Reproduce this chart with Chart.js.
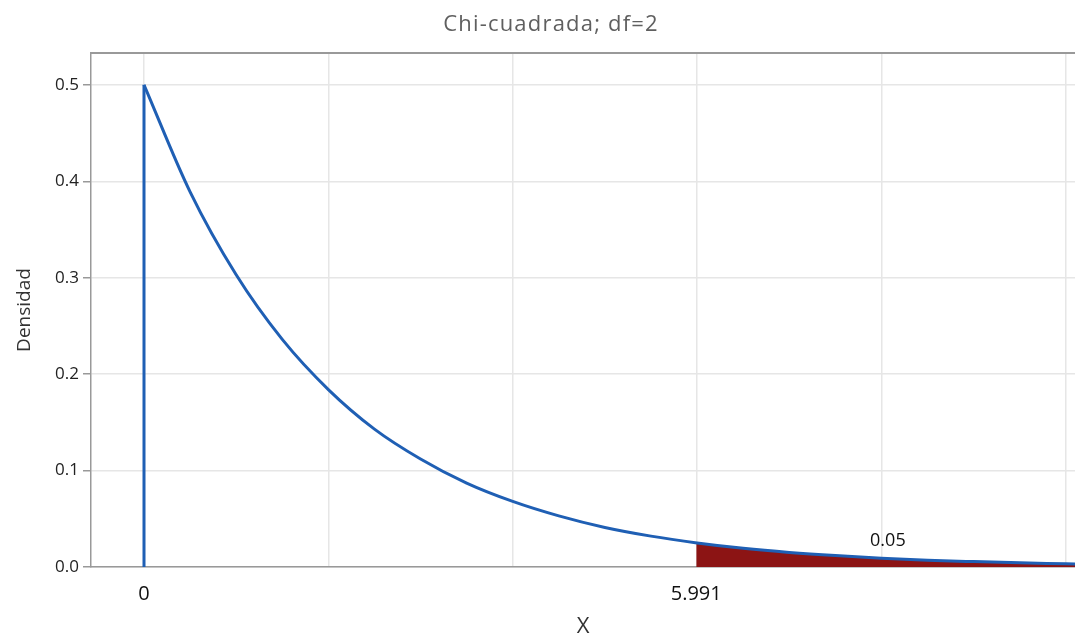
<!DOCTYPE html>
<html>
<head>
<meta charset="utf-8">
<script src="https://cdn.jsdelivr.net/npm/chart.js@4"></script>
<style>
  body { margin: 0; background: #fff; }
  #wrap { width: 1075px; height: 636px; position: relative; }
</style>
</head>
<body>
<div id="wrap"><canvas id="chiChart"></canvas></div>
<script>
// density curve
const curveX = [0, 0.5, 1, 1.5, 2, 2.5, 3, 3.5, 4, 4.5, 5, 5.5, 6, 6.5, 7, 7.5, 8, 8.5, 9, 9.5, 10, 10.1];
const curveY = [0.5, 0.389, 0.303, 0.236, 0.184, 0.143, 0.112, 0.087, 0.068, 0.053, 0.041, 0.032, 0.025, 0.0194, 0.0151, 0.0118, 0.0092, 0.0071, 0.0056, 0.0043, 0.0034, 0.0032];

// vertical edge at x = 0
const edgeX = [0, 0];
const edgeY = [0, 0.5];

// shaded right tail
const tailX = [5.991, 6.5, 7, 7.5, 8, 8.5, 9, 9.5, 10, 10.1];
const tailY = [0.025, 0.0194, 0.0151, 0.0118, 0.0092, 0.0071, 0.0056, 0.0043, 0.0034, 0.0032];

const yTicks = [0, 0.1, 0.2, 0.3, 0.4, 0.5];
const xGrid = [0, 2, 4, 6, 8, 10];
const xLabels = [0, 5.991];
const critical = 5.991;

const tailLabel = "0.05";
const tailLabelX = 8.07;
const tailLabelY = 0.027;

const toPoints = (xs, ys) => xs.map((x, i) => ({ x: x, y: ys[i] }));

const blue = "#1f5fb4";
const darkRed = "#8c1414";

const decorPlugin = {
    id: "decor",
    afterDraw(chart) {
        const ctx = chart.ctx;
        const area = chart.chartArea;

        // top frame line
        ctx.save();
        ctx.strokeStyle = "#999";
        ctx.lineWidth = 2;
        ctx.beginPath();
        ctx.moveTo(area.left, area.top);
        ctx.lineTo(area.right, area.top);
        ctx.stroke();

        // title
        ctx.fillStyle = "#5f5f5f";
        ctx.font = "22px 'Open Sans'";
        ctx.letterSpacing = "1.2px";
        ctx.textAlign = "center";
        ctx.textBaseline = "middle";
        ctx.fillText("Chi-cuadrada; df=2", 551, 25);
        ctx.letterSpacing = "0px";

        // tail probability
        ctx.fillStyle = "#111";
        ctx.font = "18px 'Open Sans'";
        ctx.fillText(tailLabel, chart.scales.x.getPixelForValue(tailLabelX), chart.scales.y.getPixelForValue(tailLabelY));
        ctx.restore();
    }
};

new Chart(document.getElementById("chiChart"), {
    type: "line",
    data: {
        datasets: [
            {
                data: toPoints(curveX, curveY),
                borderColor: blue,
                borderWidth: 3,
                pointRadius: 0,
                cubicInterpolationMode: "monotone",
                fill: false
            },
            {
                data: toPoints(edgeX, edgeY),
                borderColor: blue,
                borderWidth: 3,
                pointRadius: 0,
                fill: false
            },
            {
                data: toPoints(tailX, tailY),
                borderWidth: 0,
                borderColor: darkRed,
                backgroundColor: darkRed,
                pointRadius: 0,
                cubicInterpolationMode: "monotone",
                fill: "origin"
            }
        ]
    },
    options: {
        responsive: true,
        maintainAspectRatio: false,
        animation: false,
        layout: {
            padding: { top: 53, right: 0, left: 0, bottom: 0 }
        },
        plugins: {
            legend: { display: false },
            tooltip: { enabled: false },
            title: { display: false }
        },
        scales: {
            x: {
                type: "linear",
                min: -0.575,
                max: 10.1,
                afterFit(scale) {
                    scale.height = 69;
                    scale.paddingLeft = 0;
                    scale.paddingRight = 0;
                },
                afterBuildTicks(scale) {
                    scale.ticks = [0, 2, 4, critical, 6, 8, 10].map(v => ({ value: v }));
                },
                ticks: {
                    autoSkip: false,
                    maxRotation: 0,
                    padding: 15,
                    color: "#111",
                    font: { family: "'Open Sans'", size: 20 },
                    callback: (value) => xLabels.includes(value) ? String(value) : ""
                },
                grid: {
                    drawTicks: false,
                    color: (c) => (c.tick && xGrid.includes(c.tick.value)) ? "#e6e6e6" : "rgba(0,0,0,0)",
                    lineWidth: 1.5
                },
                border: { color: "#999", width: 1.5 },
                title: {
                    display: true,
                    text: "X",
                    color: "#333",
                    font: { family: "'Open Sans'", size: 22, lineHeight: 1 },
                    padding: { top: 0, bottom: -2 }
                }
            },
            y: {
                min: 0,
                max: 0.533,
                afterFit(scale) {
                    scale.width = 91;
                    scale.paddingTop = 0;
                    scale.paddingBottom = 0;
                },
                afterBuildTicks(scale) {
                    scale.ticks = yTicks.map(v => ({ value: v }));
                },
                ticks: {
                    padding: 4,
                    color: "#222",
                    font: { family: "'Open Sans'", size: 17 },
                    callback: (value) => value.toFixed(1)
                },
                grid: {
                    color: "#e6e6e6",
                    lineWidth: 1.5,
                    tickLength: 8,
                    tickColor: "#999"
                },
                border: { color: "#999", width: 1.5 },
                title: {
                    display: true,
                    text: "Densidad",
                    color: "#333",
                    font: { family: "'Open Sans'", size: 19, lineHeight: 1.2 },
                    padding: { top: 13, bottom: 0 }
                }
            }
        }
    },
    plugins: [decorPlugin]
});
</script>
</body>
</html>
